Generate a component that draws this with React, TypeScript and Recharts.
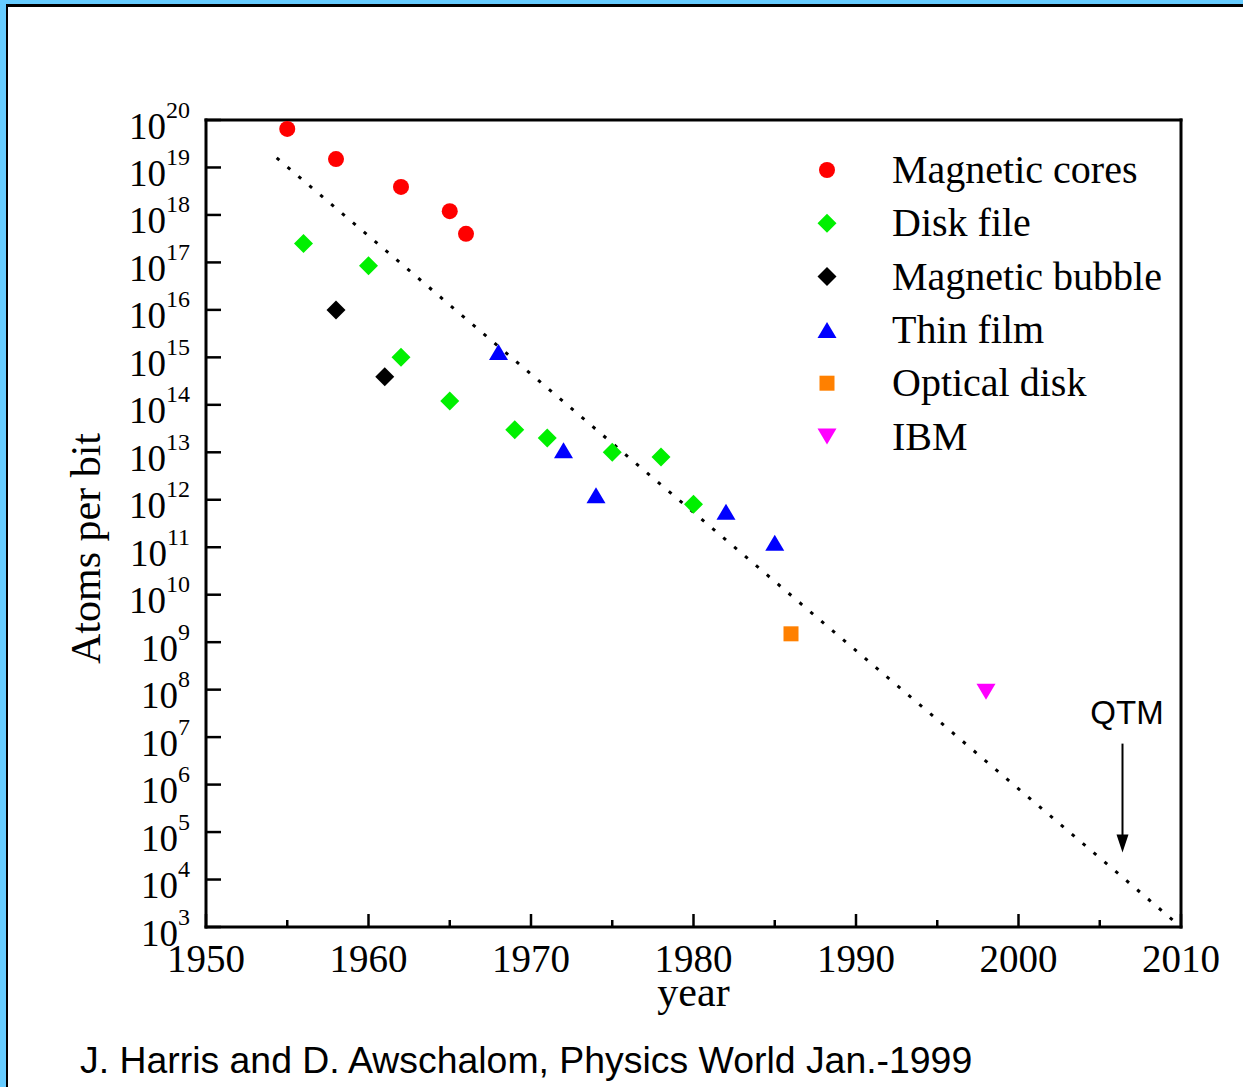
import React from "react"
import { ScatterChart, Scatter, XAxis, YAxis, ReferenceLine, Legend } from "recharts"

// storage density history: atoms needed per stored bit
const coreYears = [1955, 1958, 1962, 1965, 1966]
const coreAtoms = [6.5e19, 1.5e19, 3.9e18, 1.2e18, 4e17]

const diskYears = [1956, 1960, 1962, 1965, 1969, 1971, 1975, 1978, 1980]
const diskAtoms = [2.5e17, 8.5e16, 1e15, 1.2e14, 3e13, 2e13, 1e13, 8e12, 8e11]

const bubbleYears = [1958, 1961]
const bubbleAtoms = [1e16, 3.9e14]

const filmYears = [1968, 1972, 1974, 1982, 1985]
const filmAtoms = [1.3e15, 1.1e13, 1.25e12, 5.6e11, 1.25e11]

const opticalYears = [1986]
const opticalAtoms = [1.5e9]

const ibmYears = [1998]
const ibmAtoms = [9e7]

// dotted trend line ends and the QTM arrow
const trendYears = [1954.35, 2010]
const trendAtoms = [1.6e19, 1e3]
const qtmYear = 2006.4
const qtmAtoms = [7.3e6, 3.7e4]

const yearTicks = [1950, 1955, 1960, 1965, 1970, 1975, 1980, 1985, 1990, 1995, 2000, 2005, 2010]
const decadeTicks = [1950, 1960, 1970, 1980, 1990, 2000, 2010]
const powerTicks = Array.from({ length: 18 }, (_, i) => Math.pow(10, 3 + i))

const SERIF = '"Liberation Serif", "Times New Roman", serif'
const SANS = '"Liberation Sans", Arial, sans-serif'

const toPoints = (years: number[], atoms: number[]) => years.map((year, i) => ({ year, atoms: atoms[i] }))

type MarkerKind = "circle" | "diamond" | "up" | "square" | "down"

const SERIES: { name: string; color: string; marker: MarkerKind; data: { year: number; atoms: number }[] }[] = [
  { name: "Magnetic cores", color: "#FF0000", marker: "circle", data: toPoints(coreYears, coreAtoms) },
  { name: "Disk file", color: "#00F000", marker: "diamond", data: toPoints(diskYears, diskAtoms) },
  { name: "Magnetic bubble", color: "#000000", marker: "diamond", data: toPoints(bubbleYears, bubbleAtoms) },
  { name: "Thin film", color: "#0000FF", marker: "up", data: toPoints(filmYears, filmAtoms) },
  { name: "Optical disk", color: "#FF8000", marker: "square", data: toPoints(opticalYears, opticalAtoms) },
  { name: "IBM", color: "#FF00FF", marker: "down", data: toPoints(ibmYears, ibmAtoms) },
]

const Marker = ({ kind, color, cx, cy }: { kind: MarkerKind; color: string; cx: number; cy: number }) => {
  switch (kind) {
    case "circle":
      return <circle cx={cx} cy={cy} r={8} fill={color} />
    case "diamond":
      return <polygon points={`${cx},${cy - 9.5} ${cx + 9.5},${cy} ${cx},${cy + 9.5} ${cx - 9.5},${cy}`} fill={color} />
    case "up":
      return <polygon points={`${cx},${cy - 8} ${cx + 9.5},${cy + 8} ${cx - 9.5},${cy + 8}`} fill={color} />
    case "down":
      return <polygon points={`${cx - 9.5},${cy - 8} ${cx + 9.5},${cy - 8} ${cx},${cy + 8}`} fill={color} />
    default:
      return <rect x={cx - 7.5} y={cy - 7.5} width={15} height={15} fill={color} />
  }
}

const YearTick = (props: any) => {
  const { x, y, payload } = props
  const major = payload.value % 10 === 0
  return (
    <g>
      <line x1={x} x2={x} y1={y} y2={y - (major ? 13 : 7)} stroke="#000" strokeWidth={2.5} />
      {major && (
        <text x={x} y={y + 45} textAnchor="middle" fontFamily={SERIF} fontSize={39} fill="#000">
          {payload.value}
        </text>
      )}
    </g>
  )
}

const TopTick = (props: any) => {
  const { x, y } = props
  return <line x1={x} x2={x} y1={y} y2={y + 4} stroke="#000" strokeWidth={2} />
}

const PowerTick = (props: any) => {
  const { x, y, payload } = props
  const exp = Math.round(Math.log10(payload.value))
  return (
    <g>
      <line x1={x} x2={x + 15} y1={y} y2={y} stroke="#000" strokeWidth={2.5} />
      <text x={x - 16} y={y + 18.5} textAnchor="end" fontFamily={SERIF} fill="#000">
        <tspan fontSize={37}>10</tspan>
        <tspan fontSize={24} dy={-21}>{exp}</tspan>
      </text>
    </g>
  )
}

const RightTick = (props: any) => {
  const { x, y } = props
  return <line x1={x} x2={x - 4} y1={y} y2={y} stroke="#000" strokeWidth={2} />
}

const YearLabel = (props: any) => {
  const vb = props.viewBox ?? { x: 206, y: 927, width: 975 }
  return (
    <text x={vb.x + vb.width / 2} y={vb.y + 79} textAnchor="middle" fontFamily={SERIF} fontSize={42} fill="#000">
      year
    </text>
  )
}

const AtomsLabel = (props: any) => {
  const vb = props.viewBox ?? { x: 106, y: 120, width: 100, height: 807 }
  const x = vb.x + vb.width - 106
  const y = vb.y + vb.height / 2 + 25
  return (
    <text x={x} y={y} transform={`rotate(-90, ${x}, ${y})`} textAnchor="middle" fontFamily={SERIF} fontSize={42} fill="#000">
      Atoms per bit
    </text>
  )
}

const QtmArrow = (props: any) => {
  const { x1, y1, y2 } = props
  return (
    <g>
      <text x={x1 + 4.5} y={y1 - 20} textAnchor="middle" fontFamily={SANS} fontSize={33} fill="#000">
        QTM
      </text>
      <line x1={x1} x2={x1} y1={y1} y2={y2 - 16} stroke="#000" strokeWidth={2} />
      <polygon points={`${x1 - 6},${y2 - 18} ${x1 + 6},${y2 - 18} ${x1},${y2}`} fill="#000" />
    </g>
  )
}

const LegendRows = () => (
  <svg width={420} height={330}>
    {SERIES.map((s, i) => (
      <g key={s.name} transform={`translate(0, ${i * 53.3})`}>
        <Marker kind={s.marker} color={s.color} cx={22} cy={25} />
        <text x={87} y={38} fontFamily={SERIF} fontSize={40} fill="#000">
          {s.name}
        </text>
      </g>
    ))}
  </svg>
)

const axisLine = { stroke: "#000", strokeWidth: 3, strokeLinecap: "square" as const }

export default function App() {
  return (
    <div style={{ position: "absolute", left: 0, top: 0, width: 1243, height: 1087, background: "#fff", overflow: "hidden" }}>
      <div
        style={{
          position: "absolute",
          inset: 0,
          borderTop: "4px solid #66CCFF",
          borderLeft: "6px solid #66CCFF",
        }}
      >
        <div style={{ position: "absolute", inset: 0, borderTop: "3px solid #000", borderLeft: "2.5px solid #000" }} />
      </div>

      <div style={{ position: "absolute", left: 0, top: 0 }}>
        <ScatterChart width={1243} height={1087} margin={{ top: 119, left: 106, right: 61, bottom: 60 }}>
          <XAxis
            dataKey="year"
            type="number"
            domain={[1950, 2010]}
            ticks={yearTicks}
            height={100}
            tickSize={0}
            tickMargin={0}
            tickLine={false}
            tick={<YearTick />}
            axisLine={axisLine}
            allowDataOverflow
            label={YearLabel}
          />
          <XAxis
            xAxisId="top"
            orientation="top"
            type="number"
            domain={[1950, 2010]}
            ticks={decadeTicks}
            height={1}
            tickSize={0}
            tickMargin={0}
            tickLine={false}
            tick={<TopTick />}
            axisLine={axisLine}
          />
          <YAxis
            dataKey="atoms"
            type="number"
            scale="log"
            domain={[1e3, 1e20]}
            ticks={powerTicks}
            width={100}
            tickSize={0}
            tickMargin={0}
            tickLine={false}
            tick={<PowerTick />}
            axisLine={axisLine}
            allowDataOverflow
            label={AtomsLabel}
          />
          <YAxis
            yAxisId="right"
            orientation="right"
            type="number"
            scale="log"
            domain={[1e3, 1e20]}
            ticks={powerTicks}
            width={1}
            tickSize={0}
            tickMargin={0}
            tickLine={false}
            tick={<RightTick />}
            axisLine={axisLine}
          />

          <ReferenceLine
            segment={[
              { x: trendYears[0], y: trendAtoms[0] },
              { x: trendYears[1], y: trendAtoms[1] },
            ]}
            stroke="#000"
            strokeWidth={3}
            strokeDasharray="3.5 10.8"
            ifOverflow="visible"
          />
          <ReferenceLine
            segment={[
              { x: qtmYear, y: qtmAtoms[0] },
              { x: qtmYear, y: qtmAtoms[1] },
            ]}
            shape={QtmArrow}
            ifOverflow="visible"
          />

          {SERIES.map((s) => (
            <Scatter
              key={s.name}
              name={s.name}
              data={s.data}
              fill={s.color}
              isAnimationActive={false}
              shape={(p: any) => <Marker kind={s.marker} color={s.color} cx={p.cx} cy={p.cy} />}
            />
          ))}

          <Legend
            layout="vertical"
            align="center"
            verticalAlign="middle"
            content={<LegendRows />}
            wrapperStyle={{ left: 805, top: 145, width: 420, height: 330 }}
          />
        </ScatterChart>
      </div>

      <div
        style={{
          position: "absolute",
          left: 80,
          top: 1042,
          fontFamily: SANS,
          fontSize: 37.4,
          lineHeight: 1,
          color: "#000",
          whiteSpace: "nowrap",
        }}
      >
        J. Harris and D. Awschalom, Physics World Jan.-1999
      </div>
    </div>
  )
}
